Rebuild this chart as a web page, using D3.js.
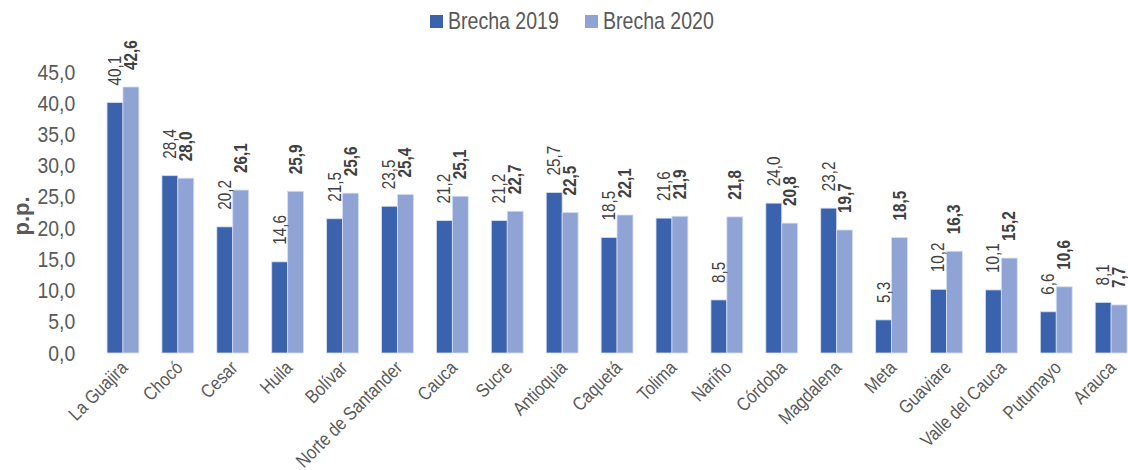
<!DOCTYPE html>
<html>
<head>
    <meta charset="utf-8">
    <title>Brecha 2019 - 2020</title>
    <style>
        body { margin: 0; background: #fff; }
        text { font-family: "Liberation Sans Narrow", "Arial Narrow", "Liberation Sans", sans-serif; }
    </style>
</head>
<body>
    <script src="https://cdnjs.cloudflare.com/ajax/libs/d3/7.9.0/d3.min.js"></script>
    <script>

        const departments = ["La Guajira", "Chocó", "Cesar", "Huila", "Bolívar", "Norte de Santander",
            "Cauca", "Sucre", "Antioquia", "Caquetá", "Tolima", "Nariño", "Córdoba", "Magdalena",
            "Meta", "Guaviare", "Valle del Cauca", "Putumayo", "Arauca"];
        const gap2019 = [40.1, 28.4, 20.2, 14.6, 21.5, 23.5, 21.2, 21.2, 25.7, 18.5, 21.6, 8.5, 24.0, 23.2, 5.3, 10.2, 10.1, 6.6, 8.1];
        const gap2020 = [42.6, 28.0, 26.1, 25.9, 25.6, 25.4, 25.1, 22.7, 22.5, 22.1, 21.9, 21.8, 20.8, 19.7, 18.5, 16.3, 15.2, 10.6, 7.7];
        const seriesNames = ["Brecha 2019", "Brecha 2020"];
        const yTicks = [0, 5, 10, 15, 20, 25, 30, 35, 40, 45];

        const width = 1128;
        const height = 470;
        const colors = ["#3b63ad", "#8fa4d5"];
        const narrow = 0.85; // squeeze text horizontally, no narrow font installed

        const locale = d3.formatLocale({decimal: ",", thousands: ".", grouping: [3], currency: ["$", ""]});
        const fmt = locale.format(".1f");

        const svg = d3.select("body")
            .append("svg")
            .attr("width", width)
            .attr("height", height);

        const x = d3.scaleBand()
            .domain(departments)
            .range([95.5, 1138.6])
            .paddingInner(0.42)
            .paddingOuter(0.21);

        const xSub = d3.scaleBand()
            .domain(seriesNames)
            .range([0, x.bandwidth()]);

        const y = d3.scaleLinear()
            .domain([0, 45])
            .range([353, 72]);

        // y axis, no line or ticks
        const yAxis = svg.append("g")
            .attr("transform", "translate(77,0)")
            .call(d3.axisLeft(y).tickValues(yTicks).tickFormat(fmt).tickSize(0).tickPadding(2));
        yAxis.select(".domain").remove();
        yAxis.selectAll("text")
            .attr("font-size", "22px")
            .attr("font-family", null)
            .attr("fill", "#595959")
            .attr("transform", "scale(0.88,1)");

        svg.append("text")
            .attr("transform", "translate(29,216) rotate(-90)")
            .attr("text-anchor", "middle")
            .attr("font-size", "22px")
            .attr("font-weight", "bold")
            .attr("fill", "#595959")
            .text("p.p.");

        const rows = departments.map((d, i) => ({dep: d, values: [gap2019[i], gap2020[i]]}));

        const groups = svg.selectAll(".grp")
            .data(rows)
            .enter()
            .append("g")
            .attr("class", "grp")
            .attr("transform", d => `translate(${x(d.dep)},0)`);

        groups.selectAll("rect")
            .data(d => d.values.map((v, k) => ({k: k, v: v})))
            .enter()
            .append("rect")
            .attr("x", d => xSub(seriesNames[d.k]))
            .attr("y", d => y(d.v))
            .attr("width", xSub.bandwidth())
            .attr("height", d => y(0) - y(d.v))
            .attr("fill", d => colors[d.k])
            .attr("stroke", "#d6def0")
            .attr("stroke-width", 0.8);

        // value labels, rotated
        groups.selectAll(".lbl")
            .data(d => d.values.map((v, k) => ({k: k, v: v})))
            .enter()
            .append("text")
            .attr("class", "lbl")
            .attr("transform", d => `translate(${xSub(seriesNames[d.k]) + xSub.bandwidth() / 2 + 6},${y(d.v) - 17}) rotate(-90) scale(${narrow},1)`)
            .attr("font-size", "18px")
            .attr("font-weight", d => d.k === 1 ? "bold" : "normal")
            .attr("fill", "#404040")
            .text(d => fmt(d.v));

        // category labels
        svg.append("g")
            .selectAll("text")
            .data(departments)
            .enter()
            .append("text")
            .attr("transform", d => `translate(${x(d) + x.bandwidth() / 2 + 6},369) rotate(-45) scale(${narrow},1)`)
            .attr("text-anchor", "end")
            .attr("font-size", "19px")
            .attr("fill", "#595959")
            .text(d => d);

        // legend
        const legendX = [430, 585];
        const legend = svg.append("g");
        seriesNames.forEach((name, i) => {
            legend.append("rect")
                .attr("x", legendX[i])
                .attr("y", 15)
                .attr("width", 13)
                .attr("height", 13)
                .attr("fill", colors[i]);
            legend.append("text")
                .attr("transform", `translate(${legendX[i] + 18},29) scale(${narrow},1)`)
                .attr("font-size", "23px")
                .attr("fill", "#595959")
                .text(name);
        });

    </script>
</body>
</html>
